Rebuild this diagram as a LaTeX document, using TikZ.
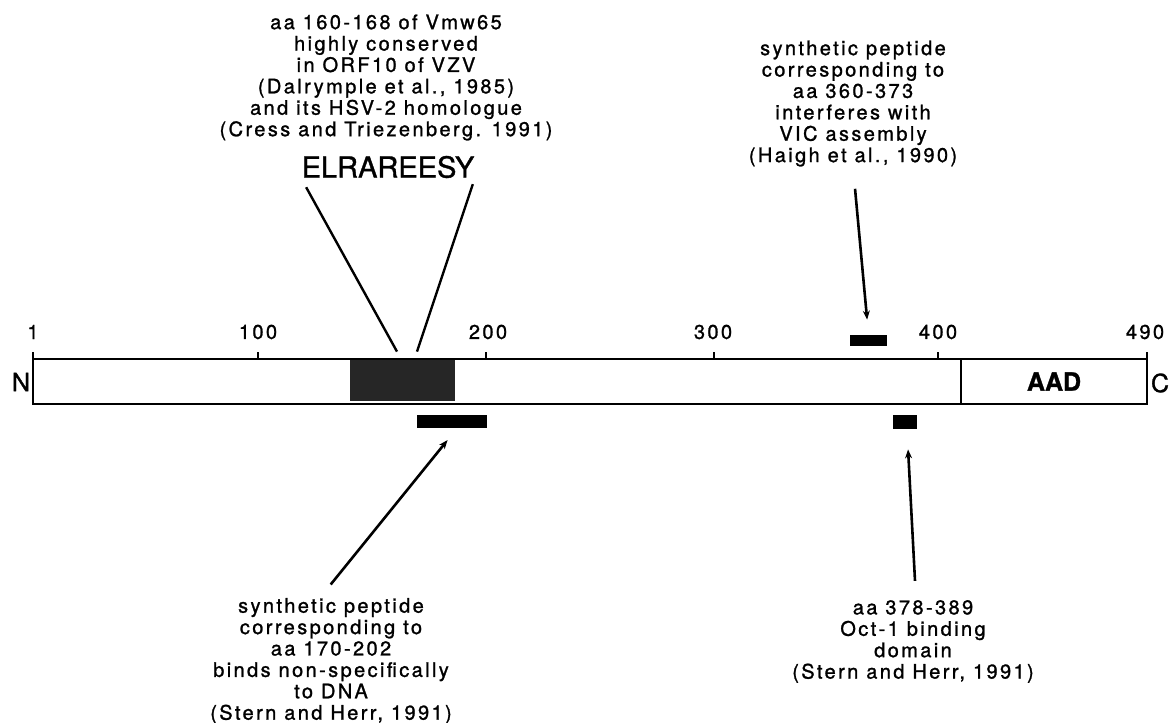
\documentclass[tikz,border=0pt]{standalone}
\usepackage{fontspec}
\setmainfont{TeX Gyre Heros}[FakeBold=1.2]
\newfontfamily\lblfont[LetterSpace=12, FakeBold=1.2]{TeX Gyre Heros}
\usetikzlibrary{arrows.meta}

\begin{document}
\begin{tikzpicture}[x=0.5pt,y=-0.5pt,
  lbl/.style={font=\lblfont\fontsize{10}{10.7}\selectfont, align=center, inner sep=0pt},
  ticklbl/.style={font=\lblfont\fontsize{10}{12}\selectfont, inner sep=0pt},
  termlbl/.style={font=\fontsize{12.5}{14}\selectfont, inner sep=0pt},
  protbar/.style={draw=black, line width=1.4pt, inner sep=0pt, minimum height=22.5pt},
  peptide/.style={fill=black, inner sep=0pt},
  leader/.style={black, line width=1.2pt},
  pointer/.style={black, line width=1.3pt, -{Stealth[length=4.5pt, width=3.5pt]}}]
\useasboundingbox (0,0) rectangle (1171,722);
% protein bar
\node[fill=black!85, inner sep=0pt, minimum width=52.5pt, minimum height=20.5pt] (elrbox) at (402.5,380.5) {};
\node[protbar, minimum width=464pt] (tad) at (497,381.5) {};
\node[protbar, minimum width=93pt, font=\bfseries\fontsize{12.5}{14}\selectfont] (aad) at (1054,381.5) {AAD};
\node[termlbl] (nterm) at (21,382) {N};
\node[termlbl] (cterm) at (1160,383) {C};
% scale
\draw[line width=1.2pt] (33,359) -- (33,352);
\draw[line width=1.2pt] (258,359) -- (258,352);
\draw[line width=1.2pt] (486,359) -- (486,352);
\draw[line width=1.2pt] (714,359) -- (714,352);
\draw[line width=1.2pt] (938,359) -- (938,352);
\draw[line width=1.2pt] (1147,359) -- (1147,352);
\node[ticklbl] (n1) at (33,332) {1};
\node[ticklbl] (n100) at (258,332) {100};
\node[ticklbl] (n200) at (488,332) {200};
\node[ticklbl] (n300) at (713,332) {300};
\node[ticklbl] (n400) at (938,332) {400};
\node[ticklbl] (n490) at (1145,332) {490};
% peptides
\node[peptide, minimum width=35pt, minimum height=6.5pt] (dnabox) at (452,421.5) {};
\node[peptide, minimum width=18.5pt, minimum height=5.5pt] (vicbox) at (868.5,340.5) {};
\node[peptide, minimum width=12pt, minimum height=7pt] (octbox) at (905,422) {};
% labels
\node[lbl] (vmw) at (386,77.5) {aa 160-168 of Vmw65\\highly conserved\\in ORF10 of VZV\\(Dalrymple et al., 1985)\\and its HSV-2 homologue\\(Cress and Triezenberg. 1991)};
\node[font=\fontsize{14.5}{16}\selectfont, inner sep=0pt] (elr) at (388,167) {ELRAREESY};
\node[lbl] (hai) at (853,103.5) {synthetic peptide\\corresponding to\\aa 360-373\\interferes with\\VIC assembly\\(Haigh et al., 1990)};
\node[lbl] (dna) at (331,661) {synthetic peptide\\corresponding to\\aa 170-202\\binds non-specifically\\to DNA\\(Stern and Herr, 1991)};
\node[lbl] (oct) at (913,641.5) {aa 378-389\\Oct-1 binding\\domain\\(Stern and Herr, 1991)};
% connectors
\draw[leader, shorten <=5pt] (elr.south west) -- ([xshift=-2.75pt,yshift=4pt]elrbox.north);
\draw[leader, shorten <=3pt] (elr.south east) -- ([xshift=7.25pt,yshift=4pt]elrbox.north);
\draw[pointer, shorten <=11pt, shorten >=7.5pt] (hai.south) -- (vicbox.north);
\draw[pointer, shorten <=8.5pt, shorten >=7.5pt] ([xshift=-5.5pt]dna.north) -- ([xshift=2.5pt]dnabox.south);
\draw[pointer, shorten <=9.5pt, shorten >=10pt] ([xshift=1.5pt]oct.north) -- ([xshift=1pt]octbox.south);
\end{tikzpicture}
\end{document}
